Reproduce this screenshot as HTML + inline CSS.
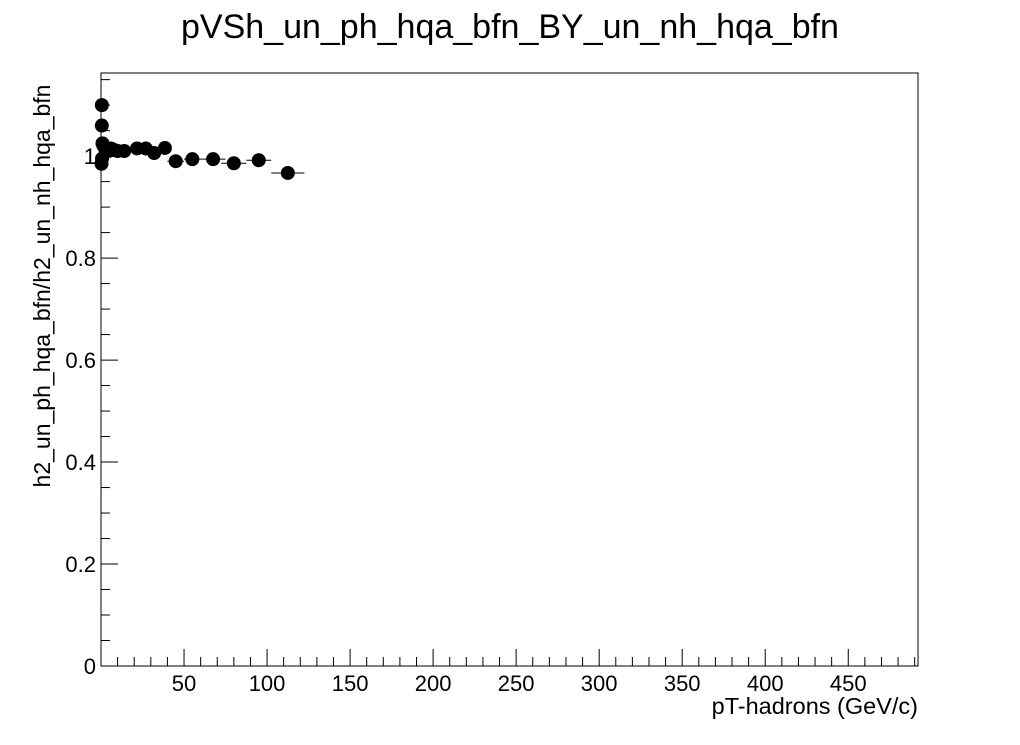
<!DOCTYPE html>
<html><head><meta charset="utf-8"><style>
body{margin:0;background:#fff;font-family:"Liberation Sans",sans-serif}
svg text{font-family:"Liberation Sans",sans-serif}
</style></head><body>
<svg id="c" width="1020" height="740">
<text x="510" y="38" font-size="34" text-anchor="middle">pVSh_un_ph_hqa_bfn_BY_un_nh_hqa_bfn</text>
<rect x="101" y="73" width="817" height="593" fill="none" stroke="#000" stroke-width="1"/>
<text x="918" y="714" font-size="23.5" text-anchor="end">pT-hadrons (GeV/c)</text>
<text transform="translate(50,286) rotate(-90)" font-size="23" text-anchor="middle">h2_un_ph_hqa_bfn/h2_un_nh_hqa_bfn</text>
<g id="axes"></g><g id="marks"></g>
</svg>
<script>
const xs=[0.3,0.6,0.9,0.5,0.5,1.5,2.5,3.5,4.5,6,8,10,14,21.7,27,32,38.5,45,55,67.5,80,95,112.5];
const ys=[0.985,0.995,1.025,1.1,1.06,1.02,1.015,1.012,1.01,1.015,1.012,1.01,1.01,1.015,1.015,1.006,1.016,0.99,0.994,0.994,0.986,0.992,0.967];
const xerr=[0.3,0.3,0.3,0.3,0.3,0.5,0.5,0.5,0.5,1,1,1,3,3,3,3,3,5,5,7.5,7.5,7.5,10];
const xTicks=[50,100,150,200,250,300,350,400,450];
const yTicks=[0,0.2,0.4,0.6,0.8,1];
const yLabels=["0","0.2","0.4","0.6","0.8","1"];
const L=101,R=918,T=73,B=666,XMAX=492,YMAX=1.163;
const X=v=>L+v/XMAX*(R-L), Y=v=>B-v/YMAX*(B-T);
const NS="http://www.w3.org/2000/svg";
const ax=document.getElementById('axes'),mk=document.getElementById('marks');
function ln(p,x1,y1,x2,y2,n){const l=document.createElementNS(NS,'line');l.setAttribute('x1',x1);l.setAttribute('y1',y1);l.setAttribute('x2',x2);l.setAttribute('y2',y2);l.setAttribute('stroke','#000');


p.appendChild(l);return l;}
function tx(x,y,s,a,n){const t=document.createElementNS(NS,'text');t.setAttribute('x',x);t.setAttribute('y',y);t.setAttribute('font-size','22');t.setAttribute('text-anchor',a);t.textContent=s;


ax.appendChild(t);}
for(let v=10;v<XMAX;v+=10){const maj=v%50===0;ln(ax,X(v),B,X(v),B-(maj?17:9),'x-tick');}
xTicks.forEach(v=>tx(X(v),B+25,String(v),'middle','x-tick-label'));
for(let v=0;v<=YMAX+1e-9;v+=0.05){const maj=Math.abs(v/0.2-Math.round(v/0.2))<1e-6;ln(ax,L,Y(v),L+(maj?17:9),Y(v),'y-tick');}
yTicks.forEach((v,i)=>tx(L-5,Y(v)+8,yLabels[i],'end','y-tick-label'));
xs.forEach((v,i)=>{ln(mk,X(v-xerr[i]),Y(ys[i]),X(v+xerr[i]),Y(ys[i]),'x-error-bar');
const c=document.createElementNS(NS,'circle');c.setAttribute('cx',X(v));c.setAttribute('cy',Y(ys[i]));c.setAttribute('r',7);


mk.appendChild(c);});
</script>
</body></html>
